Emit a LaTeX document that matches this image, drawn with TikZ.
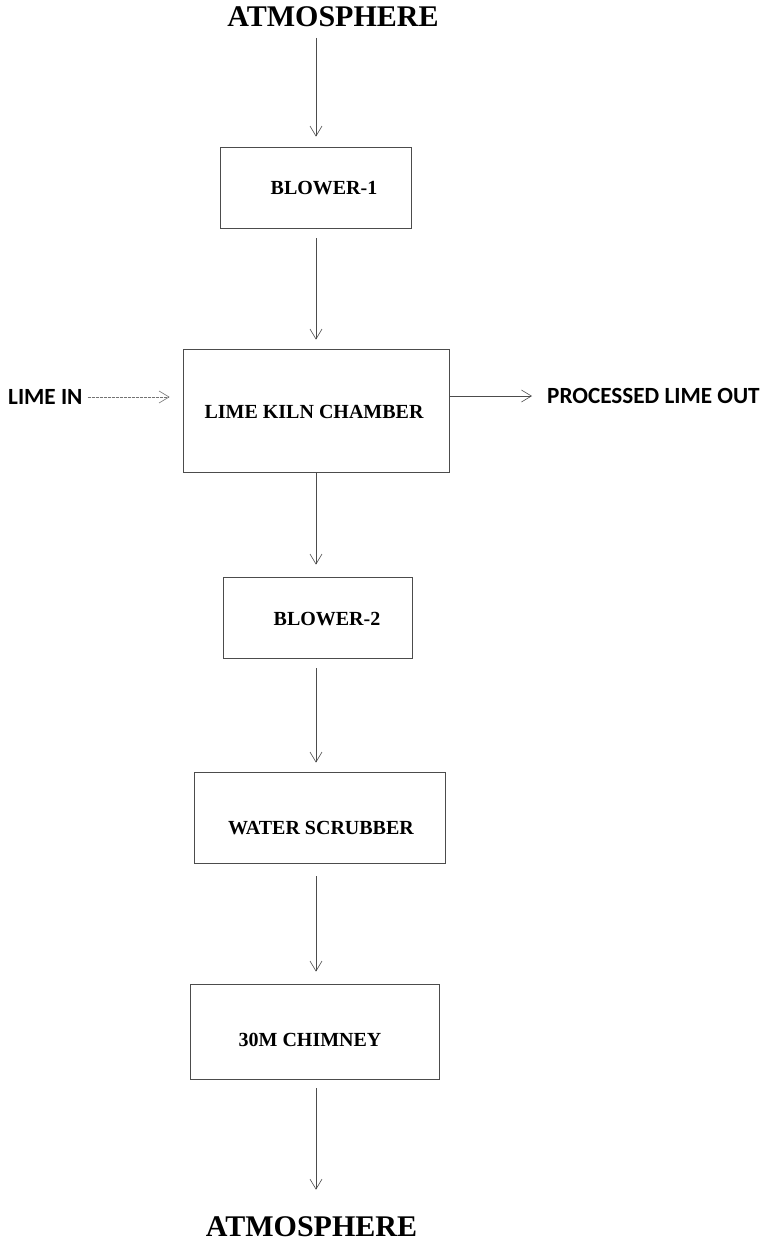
\documentclass[tikz,border=0pt]{standalone}
\usepackage{fontspec}
\setmainfont{Liberation Serif}
\newfontfamily\calib{Carlito}
\usetikzlibrary{arrows.meta}
\begin{document}
\begin{tikzpicture}[x=1pt,y=-1pt,
  box/.style={draw=black!70, line width=0.8pt, inner sep=0pt},
  lbl/.style={font=\bfseries\fontsize{20}{24}\selectfont, inner sep=0pt},
  atm/.style={font=\bfseries\fontsize{30}{35}\selectfont, inner sep=0pt},
  side/.style={font=\calib\bfseries\fontsize{23.2}{27}\selectfont, inner sep=0pt},
  arr/.style={draw=black!70, line width=0.6pt, -{Straight Barb[length=10pt,width=12pt]}},
  dotarr/.style={arr, draw=black!55, dash pattern=on 3pt off 1pt},
]
\useasboundingbox (0,0) rectangle (768,1245);
% texts outside boxes
\node[atm] (atm1) at (333,16.5) {ATMOSPHERE};
\node[atm] (atm2) at (311.5,1227) {ATMOSPHERE};
\node[side, anchor=west] (limein) at (8,397) {LIME IN};
\node[side, anchor=west] (procout) at (547,396) {PROCESSED LIME OUT};
% boxes
\node[box, minimum width=191pt, minimum height=81pt] (b1) at (315.5,187.5) {};
\node[box, minimum width=266pt, minimum height=123pt] (kiln) at (316,410.5) {};
\node[box, minimum width=189pt, minimum height=81pt] (b2) at (317.5,617.5) {};
\node[box, minimum width=251pt, minimum height=91pt] (ws) at (319.5,817.5) {};
\node[box, minimum width=249pt, minimum height=95pt] (ch) at (314.5,1031.5) {};
% box labels
\node[lbl] (l1) at (324,188) {BLOWER-1};
\node[lbl] (lk) at (314,412) {LIME KILN CHAMBER};
\node[lbl] (l2) at (327,619) {BLOWER-2};
\node[lbl] (lw) at (321,828) {WATER SCRUBBER};
\node[lbl] (lc) at (310,1040) {30M CHIMNEY};
% connectors
\draw[arr, shorten <=11pt, shorten >=10pt] (atm1.south -| kiln.south) -- (kiln.south |- b1.north);
\draw[arr, shorten <=10pt, shorten >=9pt] (kiln.south |- b1.south) -- (kiln.north);
\draw[arr, shorten >=12pt] (kiln.south) -- (kiln.south |- b2.north);
\draw[arr, shorten <=10pt, shorten >=9pt] (kiln.south |- b2.south) -- (kiln.south |- ws.north);
\draw[arr, shorten <=13pt, shorten >=12pt] (kiln.south |- ws.south) -- (kiln.south |- ch.north);
\draw[arr, shorten <=9pt, shorten >=27pt] (kiln.south |- ch.south) -- (kiln.south |- atm2.north);
\draw[dotarr, shorten <=5pt, shorten >=13pt] (limein.east) -- (kiln.west |- limein.east);
\draw[arr, shorten >=15pt] (kiln.east |- procout.west) -- (procout.west);
\end{tikzpicture}
\end{document}
